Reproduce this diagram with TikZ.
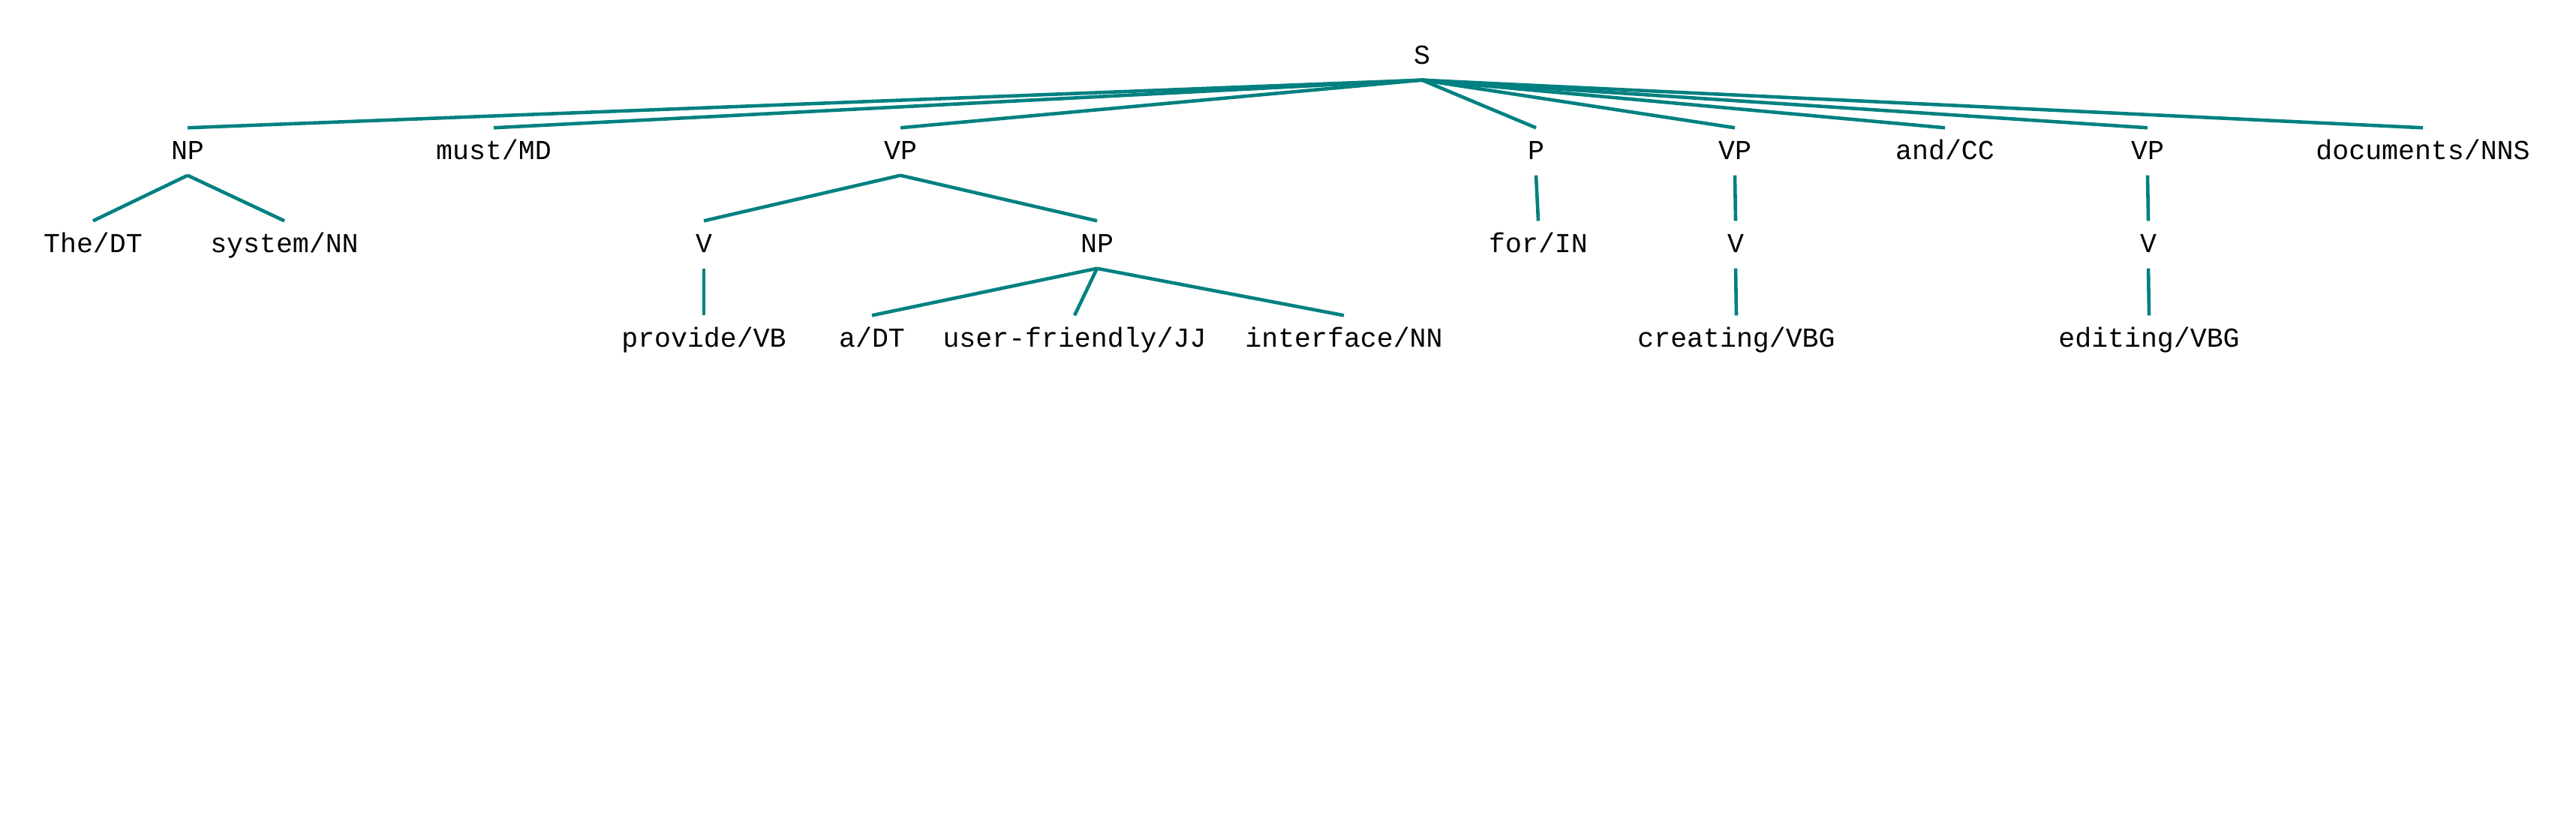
\documentclass[tikz,border=0pt]{standalone}
\usepackage{fontspec}
\usepackage{tikz}
\newfontfamily\treefont{Liberation Mono}
\definecolor{treeline}{RGB}{0,128,128}

\begin{document}
\begin{tikzpicture}[
	lab/.style={font=\treefont\fontsize{10.4}{12}\selectfont, text height=0.21cm, text depth=0cm, inner xsep=0pt, inner ysep=0.205cm},
	branch/.style={draw=treeline, line width=1.3pt}
	]
				\useasboundingbox (0,0) rectangle (34.33,11.17);
				\begin{scope}
					\node[lab] (s) at (18.95,10.42) {S};

					\node[lab] (np1) at (2.50,9.15) {NP};
					\node[lab] (must) at (6.58,9.15) {must/MD};
					\node[lab] (vp1) at (12.00,9.15) {VP};
					\node[lab] (p) at (20.47,9.15) {P};
					\node[lab] (vp2) at (23.12,9.15) {VP};
					\node[lab] (and) at (25.92,9.15) {and/CC};
					\node[lab] (vp3) at (28.62,9.15) {VP};
					\node[lab] (docs) at (32.29,9.15) {documents/NNS};

					\node[lab] (the) at (1.24,7.91) {The/DT};
					\node[lab] (system) at (3.79,7.91) {system/NN};
					\node[lab] (v1) at (9.38,7.91) {V};
					\node[lab] (np2) at (14.62,7.91) {NP};
					\node[lab] (for) at (20.50,7.91) {for/IN};
					\node[lab] (v2) at (23.13,7.91) {V};
					\node[lab] (v3) at (28.63,7.91) {V};

					\node[lab] (provide) at (9.38,6.65) {provide/VB};
					\node[lab] (a) at (11.62,6.65) {a/DT};
					\node[lab] (uf) at (14.32,6.65) {user-friendly/JJ};
					\node[lab] (iface) at (17.91,6.65) {interface/NN};
					\node[lab] (creating) at (23.14,6.65) {creating/VBG};
					\node[lab] (editing) at (28.64,6.65) {editing/VBG};

					% S
					\draw[branch] (s.south) -- (np1.north);
					\draw[branch] (s.south) -- (must.north);
					\draw[branch] (s.south) -- (vp1.north);
					\draw[branch] (s.south) -- (p.north);
					\draw[branch] (s.south) -- (vp2.north);
					\draw[branch] (s.south) -- (and.north);
					\draw[branch] (s.south) -- (vp3.north);
					\draw[branch] (s.south) -- (docs.north);

					% NP soggetto
					\draw[branch] (np1.south) -- (the.north);
					\draw[branch] (np1.south) -- (system.north);

					% VP provide
					\draw[branch] (vp1.south) -- (v1.north);
					\draw[branch] (vp1.south) -- (np2.north);
					\draw[branch] (v1.south) -- (provide.north);
					\draw[branch] (np2.south) -- (a.north);
					\draw[branch] (np2.south) -- (uf.north);
					\draw[branch] (np2.south) -- (iface.north);

					% for, creating, editing
					\draw[branch] (p.south) -- (for.north);
					\draw[branch] (vp2.south) -- (v2.north);
					\draw[branch] (v2.south) -- (creating.north);
					\draw[branch] (vp3.south) -- (v3.north);
					\draw[branch] (v3.south) -- (editing.north);
				\end{scope}
			\end{tikzpicture}
\end{document}
